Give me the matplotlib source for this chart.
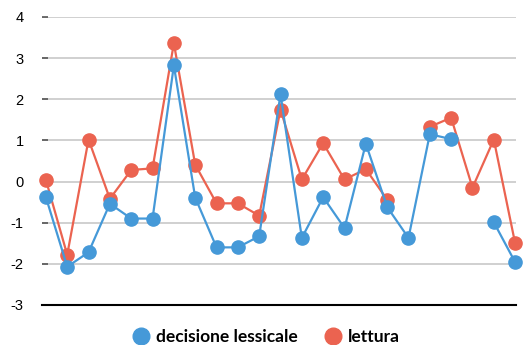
import numpy as np
import matplotlib
matplotlib.use("Agg")
import matplotlib.pyplot as plt

# values (nan = no point, line breaks there)
decisione = [-0.38, -2.07, -1.72, -0.54, -0.9, -0.9, 2.82, -0.39, -1.6, -1.6,
             -1.33, 2.12, -1.37, -0.38, -1.13, 0.92, -0.62, -1.37, 1.15, 1.03,
             np.nan, -0.99, -1.96]
lettura = [0.04, -1.78, 1.02, -0.42, 0.28, 0.32, 3.36, 0.41, -0.53, -0.53,
           -0.83, 1.75, 0.05, 0.93, 0.05, 0.3, -0.44, np.nan, 1.33, 1.55,
           -0.15, 1.02, -1.5]
yticks = [-3, -2, -1, 0, 1, 2, 3, 4]

blue = "#4599d8"
red = "#eb6350"

fig = plt.figure(figsize=(5.23, 3.45), dpi=100)
ax = fig.add_axes([0.080, 0.116, 0.907, 0.835])

x = np.arange(len(lettura))
ax.plot(x, lettura, color=red, lw=1.6, marker="o", ms=9.5, label="lettura", zorder=3, clip_on=False)
ax.plot(x, decisione, color=blue, lw=1.6, marker="o", ms=9.5, label="decisione lessicale", zorder=4, clip_on=False)

ax.set_xlim(-0.19, 22.05)
ax.set_ylim(-3, 4)
ax.set_yticks(yticks)
ax.set_yticklabels([str(t) for t in yticks], fontsize=10.5, family="Liberation Sans")
ax.set_xticks([])
ax.grid(axis="y", color="#c8c8c8", lw=1.2, zorder=0)
ax.set_axisbelow(True)
for s in ["top", "right", "left"]:
    ax.spines[s].set_visible(False)
ax.spines["bottom"].set_color("black")
ax.spines["bottom"].set_linewidth(1.5)
ax.tick_params(axis="y", direction="in", length=4.5, width=1.2, color="#555555", pad=13)

handles, labels = ax.get_legend_handles_labels()
leg = fig.legend(handles[::-1], labels[::-1], loc="center", bbox_to_anchor=(0.51, 0.023),
                 ncol=2, frameon=False, handlelength=0.9, handletextpad=0.4, columnspacing=1.6,
                 prop={"family": "Lato", "size": 12.5, "weight": "bold"})
for h in leg.legend_handles:
    h.set_linestyle("none")
    h.set_markersize(12)

fig.savefig("out.png", dpi=100)
